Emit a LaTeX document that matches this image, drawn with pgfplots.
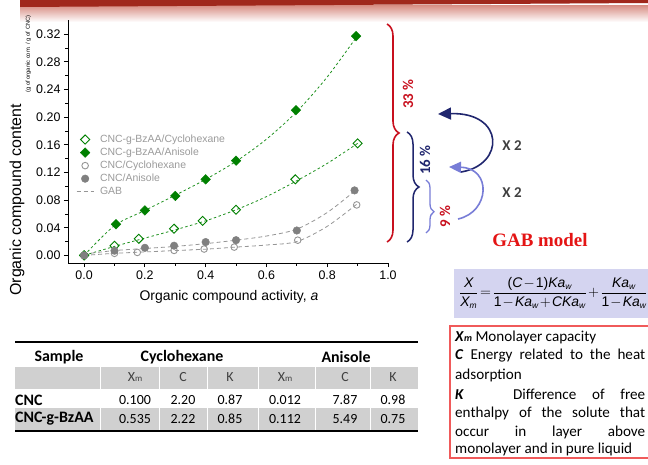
\documentclass[border=0pt]{standalone}
\usepackage{fontspec}
\setmainfont{Liberation Sans}
\newfontfamily\calibri{Carlito}
\newfontfamily\timesf{Liberation Serif}
\usepackage{pgfplots}
\pgfplotsset{compat=1.18}
\usetikzlibrary{decorations.pathreplacing,arrows.meta}

\definecolor{gD}{RGB}{0,128,0}
\definecolor{gL}{RGB}{30,145,30}
\definecolor{grP}{RGB}{128,128,128}
\definecolor{grL}{RGB}{150,150,150}
\definecolor{legtxt}{RGB}{155,155,155}
\definecolor{braceR}{RGB}{200,16,30}
\definecolor{navyB}{RGB}{32,38,110}
\definecolor{lightB}{RGB}{120,125,215}
\definecolor{eqbg}{RGB}{212,212,240}
\definecolor{boxR}{RGB}{240,90,90}
\definecolor{tgray}{RGB}{208,208,208}
\definecolor{barR}{RGB}{160,40,28}
\definecolor{txtG}{RGB}{64,64,64}

\newcommand{\vi}[1]{\mbox{\itshape #1}}
\newcommand{\sub}[1]{\mbox{\fontsize{8.5}{9}\selectfont\itshape #1}}
\newcommand{\xm}{X{\fontsize{9}{9}\selectfont m}}

\begin{document}
\begin{tikzpicture}
\useasboundingbox (0,0) rectangle (648bp,-465bp);
\fill[white] (0,0) rectangle (648bp,-465bp);

% slide header bar
\begin{scope}[x=1bp,y=-1bp]
\shade[top color={rgb,255:red,215;green,140;blue,130}, bottom color=white]
    (20,5) rectangle (648,22);
\fill[barR] (20,0) -- (648,0) -- (648,3) -- (20,7) -- cycle;
\end{scope}

\begin{axis}[
    at={(68bp,-263bp)}, anchor=south west,
    width=320bp, height=243bp, scale only axis,
    xmin=-0.053, xmax=1.0,
    ymin=-0.011, ymax=0.3404,
    axis x line*=bottom, axis y line*=left,
    axis line style={line width=0.9bp, -},
    xtick={0,0.2,0.4,0.6,0.8,1.0},
    ytick={0,0.04,0.08,0.12,0.16,0.20,0.24,0.28,0.32},
    minor x tick num=1, minor y tick num=1,
    tick align=outside,
    major tick length=4bp, minor tick length=2.5bp,
    tick style={black, line width=0.8bp},
    ticklabel style={font=\fontsize{12.5}{14}\selectfont},
    /pgf/number format/assume math mode=true,
    x tick label style={/pgf/number format/.cd, fixed, fixed zerofill, precision=1},
    y tick label style={/pgf/number format/.cd, fixed, fixed zerofill, precision=2},
    clip=false,
    legend style={at={(0.022,0.54)}, anchor=north west, draw=none, fill=none,
        font=\fontsize{10.5}{12}\selectfont, text=legtxt, row sep=0bp,
        inner sep=1bp, cells={anchor=west},
        /tikz/column 1/.style={column sep=4bp}},
]
% GAB fits
\addplot[gL, line width=0.8bp, dash pattern=on 2.5bp off 2.5bp, smooth, forget plot]
coordinates {(0,0) (0.1,0.043) (0.2,0.065) (0.3,0.087) (0.4,0.110) (0.5,0.136) (0.6,0.168) (0.7,0.208) (0.8,0.258) (0.9,0.318)};
\addplot[gL, line width=0.8bp, dash pattern=on 2.5bp off 2.5bp, smooth, forget plot]
coordinates {(0,0) (0.1,0.013) (0.2,0.025) (0.3,0.037) (0.4,0.050) (0.5,0.066) (0.6,0.085) (0.7,0.108) (0.8,0.133) (0.9,0.162)};
\addplot[grL, line width=0.8bp, dash pattern=on 4bp off 3bp, smooth, forget plot]
coordinates {(0,0.002) (0.1,0.007) (0.2,0.010) (0.3,0.013) (0.4,0.017) (0.5,0.022) (0.6,0.028) (0.7,0.038) (0.8,0.062) (0.89,0.093)};
\addplot[grL, line width=0.8bp, dash pattern=on 4bp off 3bp, smooth, forget plot]
coordinates {(0,0) (0.1,0.003) (0.2,0.005) (0.3,0.007) (0.4,0.009) (0.5,0.012) (0.6,0.015) (0.7,0.020) (0.8,0.042) (0.9,0.075)};

% measured points
\addplot[gD, only marks, mark=square, mark size=3.2bp,
    mark options={rotate=45, draw=gD, fill=white, line width=0.9bp}]
coordinates {(0,0) (0.10,0.014) (0.18,0.024) (0.296,0.0386) (0.39,0.050) (0.50,0.066) (0.695,0.110) (0.90,0.162)};
\addlegendentry{CNC-g-BzAA/Cyclohexane}
\addplot[gD, only marks, mark=square*, mark size=3.4bp,
    mark options={rotate=45, draw=gD, fill=gD}]
coordinates {(0,0) (0.105,0.045) (0.20,0.065) (0.30,0.086) (0.40,0.110) (0.50,0.137) (0.697,0.210) (0.895,0.317)};
\addlegendentry{CNC-g-BzAA/Anisole}
\addplot[grL, only marks, mark=o, mark size=3.3bp,
    mark options={draw=grL, line width=0.9bp}]
coordinates {(0,0) (0.10,0.003) (0.175,0.0043) (0.296,0.0072) (0.395,0.0092) (0.494,0.012) (0.703,0.022) (0.897,0.073)};
\addlegendentry{CNC/Cyclohexane}
\addplot[grP, only marks, mark=*, mark size=3.8bp,
    mark options={draw=grP, fill=grP}]
coordinates {(0,0) (0.10,0.0068) (0.20,0.011) (0.296,0.014) (0.40,0.0193) (0.50,0.022) (0.70,0.036) (0.89,0.094)};
\addlegendentry{CNC/Anisole}
\addlegendimage{grL, line width=0.8bp, dash pattern=on 4bp off 3bp}
\addlegendentry{GAB}
\end{axis}

\begin{scope}[x=1bp,y=-1bp]
% axis titles
\node[font=\fontsize{14}{16}\selectfont] at (229,297) {Organic compound activity, \textit{a}};
\node[rotate=90, font=\fontsize{16}{18}\selectfont] at (17,200) {Organic compound content};
\node[rotate=90, font=\fontsize{5.8}{7}\selectfont] at (28.5,54) {(g of organic com. / g of CNC)};

% braces and percentages
\draw[braceR, line width=1.6bp, decorate, decoration={brace, amplitude=12bp}] (387,24) -- (387,242);
\draw[navyB, line width=1.5bp, decorate, decoration={brace, amplitude=12bp}] (407,132) -- (407,242);
\draw[lightB, line width=1.3bp, decorate, decoration={brace, amplitude=8bp, aspect=0.6}] (426,180) -- (426,233);
\node[rotate=90, text=braceR, font=\calibri\bfseries\fontsize{15}{17}\selectfont] at (408,94) {33 \%};
\node[rotate=90, text=navyB, font=\calibri\bfseries\fontsize{15}{17}\selectfont] at (425,160) {16 \%};
\node[rotate=90, text=braceR, font=\calibri\bfseries\fontsize{15}{17}\selectfont] at (445,217) {9 \%};

% x2 arrows
\draw[navyB, line width=1.6bp, -{Triangle[length=13bp,width=12bp]}]
    (461,172) .. controls (505,165) and (505,112) .. (438,114);
\draw[lightB, line width=1.6bp, -{Triangle[length=12bp,width=11bp]}]
    (458,219) .. controls (490,212) and (492,168) .. (449,167);
\node[text=txtG, font=\calibri\bfseries\fontsize{15}{17}\selectfont] at (512,146) {X 2};
\node[text=txtG, font=\calibri\bfseries\fontsize{15}{17}\selectfont] at (512,193) {X 2};
\node[text={rgb,255:red,228;green,20;blue,20}, font=\timesf\bfseries\fontsize{19}{21}\selectfont] at (540,240) {GAB model};

% GAB equation
\fill[eqbg] (454,269) rectangle (660,318);
\node[anchor=west, inner sep=0, font=\fontsize{14}{17}\selectfont] at (459,293)
{\medmuskip=1.5mu\thickmuskip=2mu$\displaystyle \frac{\vi{X}}{\vi{X}_{\sub{m}}}=\frac{\mbox{(}\vi{C}-\mbox{1)}\vi{Ka}_{\sub{w}}}{\mbox{1}-\vi{Ka}_{\sub{w}}+\vi{CKa}_{\sub{w}}}+\frac{\vi{Ka}_{\sub{w}}}{\mbox{1}-\vi{Ka}_{\sub{w}}}$};

% parameter box
\draw[boxR, line width=1.5bp] (450,326) rectangle (670,458);
\begin{scope}[every node/.style={anchor=west, inner sep=0, font=\calibri\fontsize{15.2}{18}\selectfont}]
\node at (455,337) {\textbf{\textit{X}}{\fontsize{10}{10}\selectfont\bfseries\itshape m} Monolayer capacity};
\node at (455,356) {\makebox[190bp][s]{\textbf{\textit{C}} Energy related to the heat}};
\node at (455,375) {adsorption};
\node at (455,394.5) {\makebox[190bp][s]{\textbf{\textit{K}}\hspace{2.2em} Difference of free}};
\node at (455,413.5) {\makebox[190bp][s]{enthalpy of the solute that}};
\node at (455,432.5) {\makebox[190bp][s]{occur in layer above}};
\node at (455,449.5) {monolayer and in pure liquid};
\end{scope}

% table
\draw[line width=2bp] (15,341.5) -- (418,341.5);
\fill[tgray] (15,366.5) rectangle (418,388.5);
\fill[tgray] (15,408) rectangle (418,430);
\draw[line width=2bp] (15,431) -- (418,431);
\foreach \x in {100,159,207,258,315,370} {
  \draw[white, line width=0.8bp] (\x,366.5) -- (\x,388.5);
  \draw[white, line width=0.8bp] (\x,408) -- (\x,430);
}
\begin{scope}[every node/.style={font=\calibri\bfseries\fontsize{16}{18}\selectfont}]
\node at (59,357) {Sample};
\node at (182,357) {Cyclohexane};
\node at (346,357) {Anisole};
\node[anchor=west, inner sep=0] at (15,400) {CNC};
\node[anchor=west, inner sep=0] at (15,419) {CNC-g-BzAA};
\end{scope}
\begin{scope}[every node/.style={font=\calibri\fontsize{14}{16}\selectfont, text=black}]
\node[text=txtG] at (135,377) {\xm};  \node[text=txtG] at (183,377) {C};  \node[text=txtG] at (230,377) {K};
\node[text=txtG] at (285,377) {\xm};  \node[text=txtG] at (345,377) {C};  \node[text=txtG] at (393,377) {K};
\node at (135,400) {0.100}; \node at (183,400) {2.20}; \node at (230,400) {0.87};
\node at (285,400) {0.012}; \node at (345,400) {7.87}; \node at (393,400) {0.98};
\node at (135,419) {0.535}; \node at (183,419) {2.22}; \node at (230,419) {0.85};
\node at (285,419) {0.112}; \node at (345,419) {5.49}; \node at (393,419) {0.75};
\end{scope}
\end{scope}
\end{tikzpicture}
\end{document}
